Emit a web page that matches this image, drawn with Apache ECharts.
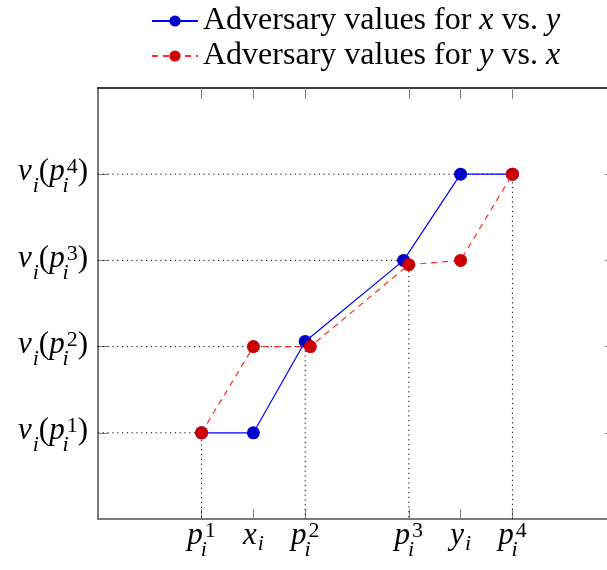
<!DOCTYPE html>
<html><head><meta charset="utf-8">
<script src="https://cdn.jsdelivr.net/npm/echarts@6/dist/echarts.min.js"></script>
<style>html,body{margin:0;padding:0;background:#fff}#c{width:607px;height:570px}</style>
</head><body><div id="c"></div>
<script>
// ---- data ----
const xTickValues = [2, 3, 4, 6, 7, 8];
const xTickLabels = [['p', '1', 'i'], ['x', '', 'i'], ['p', '2', 'i'], ['p', '3', 'i'], ['y', '', 'i'], ['p', '4', 'i']];
const yTickValues = [1, 2, 3, 4];
const yTickSup = ['1', '2', '3', '4'];
const blueX = [2, 3, 4, 5.9, 7, 8];
const blueY = [1, 1, 2.06, 3, 4, 4];
const redX = [2, 3, 4.1, 6, 7, 8];
const redY = [1, 2, 2, 2.95, 3, 4];
const guideP = [2, 4, 6, 8];
const guideV = [1, 2, 3, 4];
const blueName = 'Adversary values for x vs. y';
const redName = 'Adversary values for y vs. x';

const SERIF = 'Liberation Serif';
const MAIN = 31, SCR = 22;
const base = { fontFamily: SERIF, color: '#000', verticalAlign: 'top' };
const rich = {
  m: Object.assign({}, base, { fontStyle: 'italic', fontSize: MAIN, lineHeight: 35 }),
  r: Object.assign({}, base, { fontSize: MAIN, lineHeight: 35 }),
  sup: Object.assign({}, base, { fontSize: SCR, lineHeight: 20, padding: [0, 0, 0, 1] }),
  subz: Object.assign({}, base, { fontStyle: 'italic', fontSize: SCR, lineHeight: 20, width: 0, align: 'left', padding: [19, 0, 0, 1] }),
  sub: Object.assign({}, base, { fontStyle: 'italic', fontSize: SCR, lineHeight: 20, padding: [19, 0, 0, 1] }),
  mt: Object.assign({}, base, { fontStyle: 'italic', fontSize: MAIN, lineHeight: 24 }),
  subt: Object.assign({}, base, { fontStyle: 'italic', fontSize: SCR, lineHeight: 20, padding: [13, 0, 0, 1] })
};

function xLabel(v) {
  const k = xTickValues.indexOf(v);
  if (k < 0) return '';
  const [b, sp, sb] = xTickLabels[k];
  if (sp) return '{m|' + b + '}{subz|' + sb + '}{sup|' + sp + '}';
  return '{mt|' + b + '}{subt|' + sb + '}';
}
function yLabel(v) {
  const k = yTickValues.indexOf(v);
  if (k < 0) return '';
  return '{m|v}{sub|i}{r|(}{m|p}{subz|i}{sup|' + yTickSup[k] + '}{r|)}';
}

const pairs = (xs, ys) => xs.map((x, i) => [x, ys[i]]);
const guides = guideP.map((p, i) => ({
  type: 'line', silent: true, symbol: 'none', z: 1,
  data: [[0, guideV[i]], [p, guideV[i]], [p, 0]],
  lineStyle: { color: '#000', width: 1, type: [1.2, 3.6] }
}));

const chart = echarts.init(document.getElementById('c'), null, { renderer: 'canvas' });
chart.setOption({
  animation: false,
  backgroundColor: '#fff',
  grid: { left: 98, width: 518, top: 88, bottom: 51, containLabel: false, outerBoundsMode: 'none' },
  legend: {
    data: [blueName, redName], orient: 'vertical', left: 146, top: 0,
    itemWidth: 46, itemHeight: 14, itemGap: 3,
    formatter: n => n.replace(' x', ' {i|x}').replace(' y', ' {i|y}'),
    textStyle: {
      fontFamily: SERIF, fontSize: 32, color: '#000',
      rich: { i: { fontFamily: SERIF, fontStyle: 'italic', fontSize: 32, color: '#000' } }
    }
  },
  xAxis: [{
    type: 'value', min: 0, max: 10, interval: 1, position: 'bottom',
    axisLine: { show: true, onZero: false, lineStyle: { color: '#7a7a7a', width: 2 } },
    axisTick: { show: true, inside: true, length: 10, customValues: xTickValues, lineStyle: { color: '#808080', width: 1 } },
    axisLabel: { customValues: xTickValues, formatter: xLabel, margin: 1, rich: rich },
    splitLine: { show: false }
  }, {
    type: 'value', min: 0, max: 10, interval: 1, position: 'top',
    axisLine: { show: true, onZero: false, lineStyle: { color: '#000', width: 1.5 } },
    axisTick: { show: true, inside: true, length: 11, customValues: xTickValues, lineStyle: { color: '#808080', width: 1 } },
    axisLabel: { show: false }, splitLine: { show: false }
  }],
  yAxis: [{
    type: 'value', min: 0, max: 5, interval: 1, position: 'left',
    axisLine: { show: true, onZero: false, lineStyle: { color: '#7a7a7a', width: 2 } },
    axisTick: { show: true, inside: true, length: 10, customValues: yTickValues, lineStyle: { color: '#808080', width: 1 } },
    axisLabel: { customValues: yTickValues, formatter: yLabel, margin: 10, rich: rich },
    splitLine: { show: false }
  }, {
    type: 'value', min: 0, max: 5, interval: 1, position: 'right',
    axisLine: { show: true, onZero: false, lineStyle: { color: '#000', width: 1.5 } },
    axisTick: { show: true, inside: true, length: 11, customValues: yTickValues, lineStyle: { color: '#808080', width: 1 } },
    axisLabel: { show: false }, splitLine: { show: false }
  }],
  series: guides.concat([{
    name: blueName, type: 'line', z: 3, symbol: 'circle', symbolSize: 13,
    data: pairs(blueX, blueY),
    lineStyle: { color: '#0000ff', width: 1.2 },
    itemStyle: { color: '#0000cc' }
  }, {
    name: redName, type: 'line', z: 4, symbol: 'circle', symbolSize: 13,
    data: pairs(redX, redY),
    lineStyle: { color: '#ff2a2a', width: 1.2, type: [6, 5] },
    itemStyle: { color: '#cc0000' }
  }])
});
</script></body></html>
